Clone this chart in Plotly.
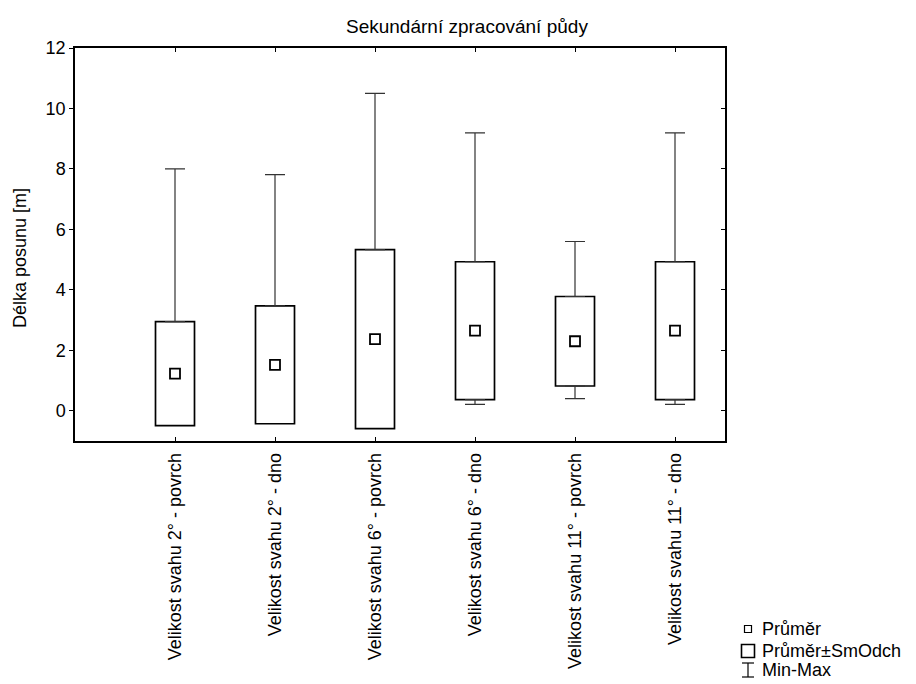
import plotly.graph_objects as go

categories = [
    "Velikost svahu 2° - povrch",
    "Velikost svahu 2° - dno",
    "Velikost svahu 6° - povrch",
    "Velikost svahu 6° - dno",
    "Velikost svahu 11° - povrch",
    "Velikost svahu 11° - dno",
]
means = [1.23, 1.52, 2.37, 2.65, 2.30, 2.65]
sds = [1.72, 1.95, 2.96, 2.28, 1.48, 2.28]
maxs = [8.0, 7.81, 10.5, 9.19, 5.6, 9.19]
mins = [None, None, None, 0.21, 0.40, 0.21]  # minimum drawn only where it lies below the box

title = "Sekundární zpracování půdy"
ytitle = "Délka posunu [m]"
ytickvals = [0, 2, 4, 6, 8, 10, 12]
legend_labels = ["Průměr", "Průměr±SmOdch", "Min-Max"]

FONT = "Liberation Sans, Arial, sans-serif"
FS = 18
xs = list(range(len(categories)))
lows = [m - s for m, s in zip(means, sds)]
highs = [m + s for m, s in zip(means, sds)]

fig = go.Figure()

# Boxes: mean ± SD
fig.add_trace(go.Bar(
    x=xs, y=[h - l for h, l in zip(highs, lows)], base=lows, width=0.39,
    marker=dict(color="white", line=dict(color="black", width=1.7)),
    showlegend=False, hoverinfo="skip",
))

# Upper whiskers: box top -> max
fig.add_trace(go.Scatter(
    x=xs, y=highs, mode="markers", marker=dict(size=0.1, color="rgba(0,0,0,0)"),
    error_y=dict(type="data", symmetric=False,
                 array=[mx - h for mx, h in zip(maxs, highs)],
                 arrayminus=[0] * len(xs), color="#333", thickness=1.2, width=10),
    showlegend=False, hoverinfo="skip",
))

# Lower whiskers: box bottom -> min (only where min is below the box)
lx, ly, lminus = [], [], []
for i, (mn, lo) in enumerate(zip(mins, lows)):
    if mn is not None and mn < lo:
        lx.append(i)
        ly.append(lo)
        lminus.append(lo - mn)
fig.add_trace(go.Scatter(
    x=lx, y=ly, mode="markers", marker=dict(size=0.1, color="rgba(0,0,0,0)"),
    error_y=dict(type="data", symmetric=False, array=[0] * len(lx),
                 arrayminus=lminus, color="#333", thickness=1.2, width=10),
    showlegend=False, hoverinfo="skip",
))

# Means
fig.add_trace(go.Scatter(
    x=xs, y=means, mode="markers",
    marker=dict(symbol="square-open", size=10, color="black", line=dict(width=1.8)),
    showlegend=False,
))

# Right-hand y axis ticks (inside)
fig.add_trace(go.Scatter(x=[None], y=[None], yaxis="y2", showlegend=False))

# Page has an 8 px body margin: figure origin sits at screen (8, 8)
OFF = 8
W, H = 916 - OFF, 684 - OFF
# plot frame in screen pixels
SX0, SX1, SY0, SY1 = 75, 725, 48, 441
L, R, T, B = SX0 - OFF, W - (SX1 - OFF), SY0 - OFF, H - (SY1 - OFF)
pw, ph = W - L - R, H - T - B

def px(sx):
    return (sx - OFF - L) / pw

def py(sy):
    return (H - B - (sy - OFF)) / ph

fig.update_layout(
    width=W, height=H,
    margin=dict(l=L, r=R, t=T, b=B, pad=0),
    paper_bgcolor="white", plot_bgcolor="white",
    font=dict(family=FONT, size=FS, color="black"),
    xaxis=dict(
        range=[-1.0, 5.5], tickmode="array", tickvals=xs, ticktext=categories,
        tickangle=-90, ticks="inside", ticklen=4, tickcolor="black",
        showline=True, linecolor="black", linewidth=1.5, mirror="ticks",
        showgrid=False, zeroline=False, tickfont=dict(size=FS),
        ticklabelstandoff=3, automargin=False,
    ),
    yaxis=dict(
        range=[-1.0, 12.0], tickmode="array", tickvals=ytickvals,
        ticks="outside", ticklen=4, tickcolor="black",
        showline=True, linecolor="black", linewidth=1.5, mirror=True,
        showgrid=False, zeroline=False, tickfont=dict(size=FS), automargin=False,
    ),
    yaxis2=dict(
        range=[-1.0, 12.0], overlaying="y", side="right", tickmode="array",
        tickvals=ytickvals, ticks="inside", ticklen=4, tickcolor="black",
        showticklabels=False, showgrid=False, zeroline=False, showline=False,
    ),
    showlegend=False,
)

# Title
fig.add_annotation(text=title, xref="paper", yref="paper", x=px(467), y=py(26),
                   xanchor="center", yanchor="middle", showarrow=False,
                   font=dict(size=19, family=FONT, color="black"))
# Y axis title
fig.add_annotation(text=ytitle, xref="paper", yref="paper", x=px(20), y=py(258),
                   xanchor="center", yanchor="middle", showarrow=False, textangle=-90,
                   font=dict(size=FS, family=FONT, color="black"))

# Manual legend (screen coords)
leg_x = 748
rows = [629, 651, 670]
shapes = []
shapes.append(dict(type="rect", xref="paper", yref="paper",
                   x0=px(leg_x - 3.5), x1=px(leg_x + 3.5), y0=py(rows[0] + 3.5), y1=py(rows[0] - 3.5),
                   line=dict(color="black", width=1.2), fillcolor="white"))
shapes.append(dict(type="rect", xref="paper", yref="paper",
                   x0=px(leg_x - 6.5), x1=px(leg_x + 6.5), y0=py(rows[1] + 6.5), y1=py(rows[1] - 6.5),
                   line=dict(color="black", width=1.6), fillcolor="white"))
shapes.append(dict(type="line", xref="paper", yref="paper",
                   x0=px(leg_x), x1=px(leg_x), y0=py(rows[2] + 7), y1=py(rows[2] - 7),
                   line=dict(color="black", width=1.2)))
for dy in (-7, 7):
    shapes.append(dict(type="line", xref="paper", yref="paper",
                       x0=px(leg_x - 6), x1=px(leg_x + 6), y0=py(rows[2] + dy), y1=py(rows[2] + dy),
                       line=dict(color="black", width=1.2)))
fig.update_layout(shapes=shapes)

for lab, yy in zip(legend_labels, rows):
    fig.add_annotation(text=lab, xref="paper", yref="paper", x=px(760), y=py(yy),
                       xanchor="left", yanchor="middle", showarrow=False,
                       font=dict(size=FS, family=FONT, color="black"))

fig.write_html("out.html")
